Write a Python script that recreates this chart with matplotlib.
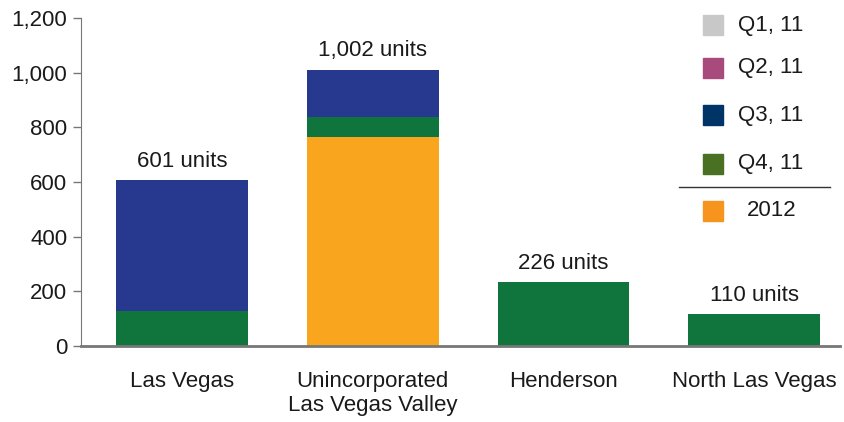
import numpy as np
import matplotlib.pyplot as plt
from matplotlib.patches import Rectangle
from matplotlib.lines import Line2D

plt.rcParams['font.family'] = ['Liberation Sans', 'DejaVu Sans']

# data
places = ['Las Vegas', 'Unincorporated\nLas Vegas Valley', 'Henderson', 'North Las Vegas']
units_2012 = [0, 766, 0, 0]
units_q4 = [128, 73, 234, 117]
units_q3 = [479, 173, 0, 0]
totals_text = ['601 units', '1,002 units', '226 units', '110 units']

legend_names = ['Q1, 11', 'Q2, 11', 'Q3, 11', 'Q4, 11', '2012']
legend_colors = ['#c8c8c8', '#a84a7b', '#003366', '#4a7023', '#f7941d']

c_blue = '#27398f'
c_green = '#10743d'
c_orange = '#f9a61e'
fs = 16

fig = plt.figure(figsize=(8.45, 4.22), dpi=100)
ax = fig.add_axes([0.0959, 0.18, 0.898, 0.777])

x = np.arange(len(places))
w = 0.69
b1 = np.array(units_2012)
b2 = b1 + np.array(units_q4)
ax.bar(x, units_2012, w, color=c_orange)
ax.bar(x, units_q4, w, bottom=b1, color=c_green)
ax.bar(x, units_q3, w, bottom=b2, color=c_blue)

tops = b2 + np.array(units_q3)
for xi, t, s in zip(x, tops, totals_text):
    ax.annotate(s, (xi, t), xytext=(0, 6), textcoords='offset points',
                ha='center', va='bottom', fontsize=fs, color='#1a1a1a')

ax.set_ylim(0, 1200)
ax.set_xlim(-0.53, 3.45)
ax.set_yticks(range(0, 1201, 200))
ax.set_yticklabels(['{:,}'.format(v) for v in range(0, 1201, 200)])
ax.set_xticks(x)
ax.set_xticklabels(places)
ax.tick_params(axis='x', length=0, pad=18, labelsize=fs, colors='#1a1a1a')
ax.tick_params(axis='y', length=6, width=1, pad=4, labelsize=fs, color='#777777', labelcolor='#1a1a1a')
for s in ['top', 'right']:
    ax.spines[s].set_visible(False)
ax.spines['left'].set_color('#777777')
ax.spines['bottom'].set_color('#777777')
ax.spines['bottom'].set_linewidth(2)

# legend drawn by hand in pixel positions
W, H = 845, 422
ys = [25, 68, 115, 164, 211]
for name, col, yc in zip(legend_names, legend_colors, ys):
    fig.patches.append(Rectangle((703 / W, 1 - (yc + 10) / H), 20 / W, 20 / H,
                                 transform=fig.transFigure, color=col))
    tx = 747 if name == '2012' else 738
    fig.text(tx / W, 1 - yc / H, name, fontsize=fs, va='center', ha='left', color='#1a1a1a')
fig.lines.append(Line2D([679 / W, 830 / W], [1 - 187 / H, 1 - 187 / H],
                        transform=fig.transFigure, color='#333333', linewidth=1))

plt.savefig('out.png', dpi=100)
